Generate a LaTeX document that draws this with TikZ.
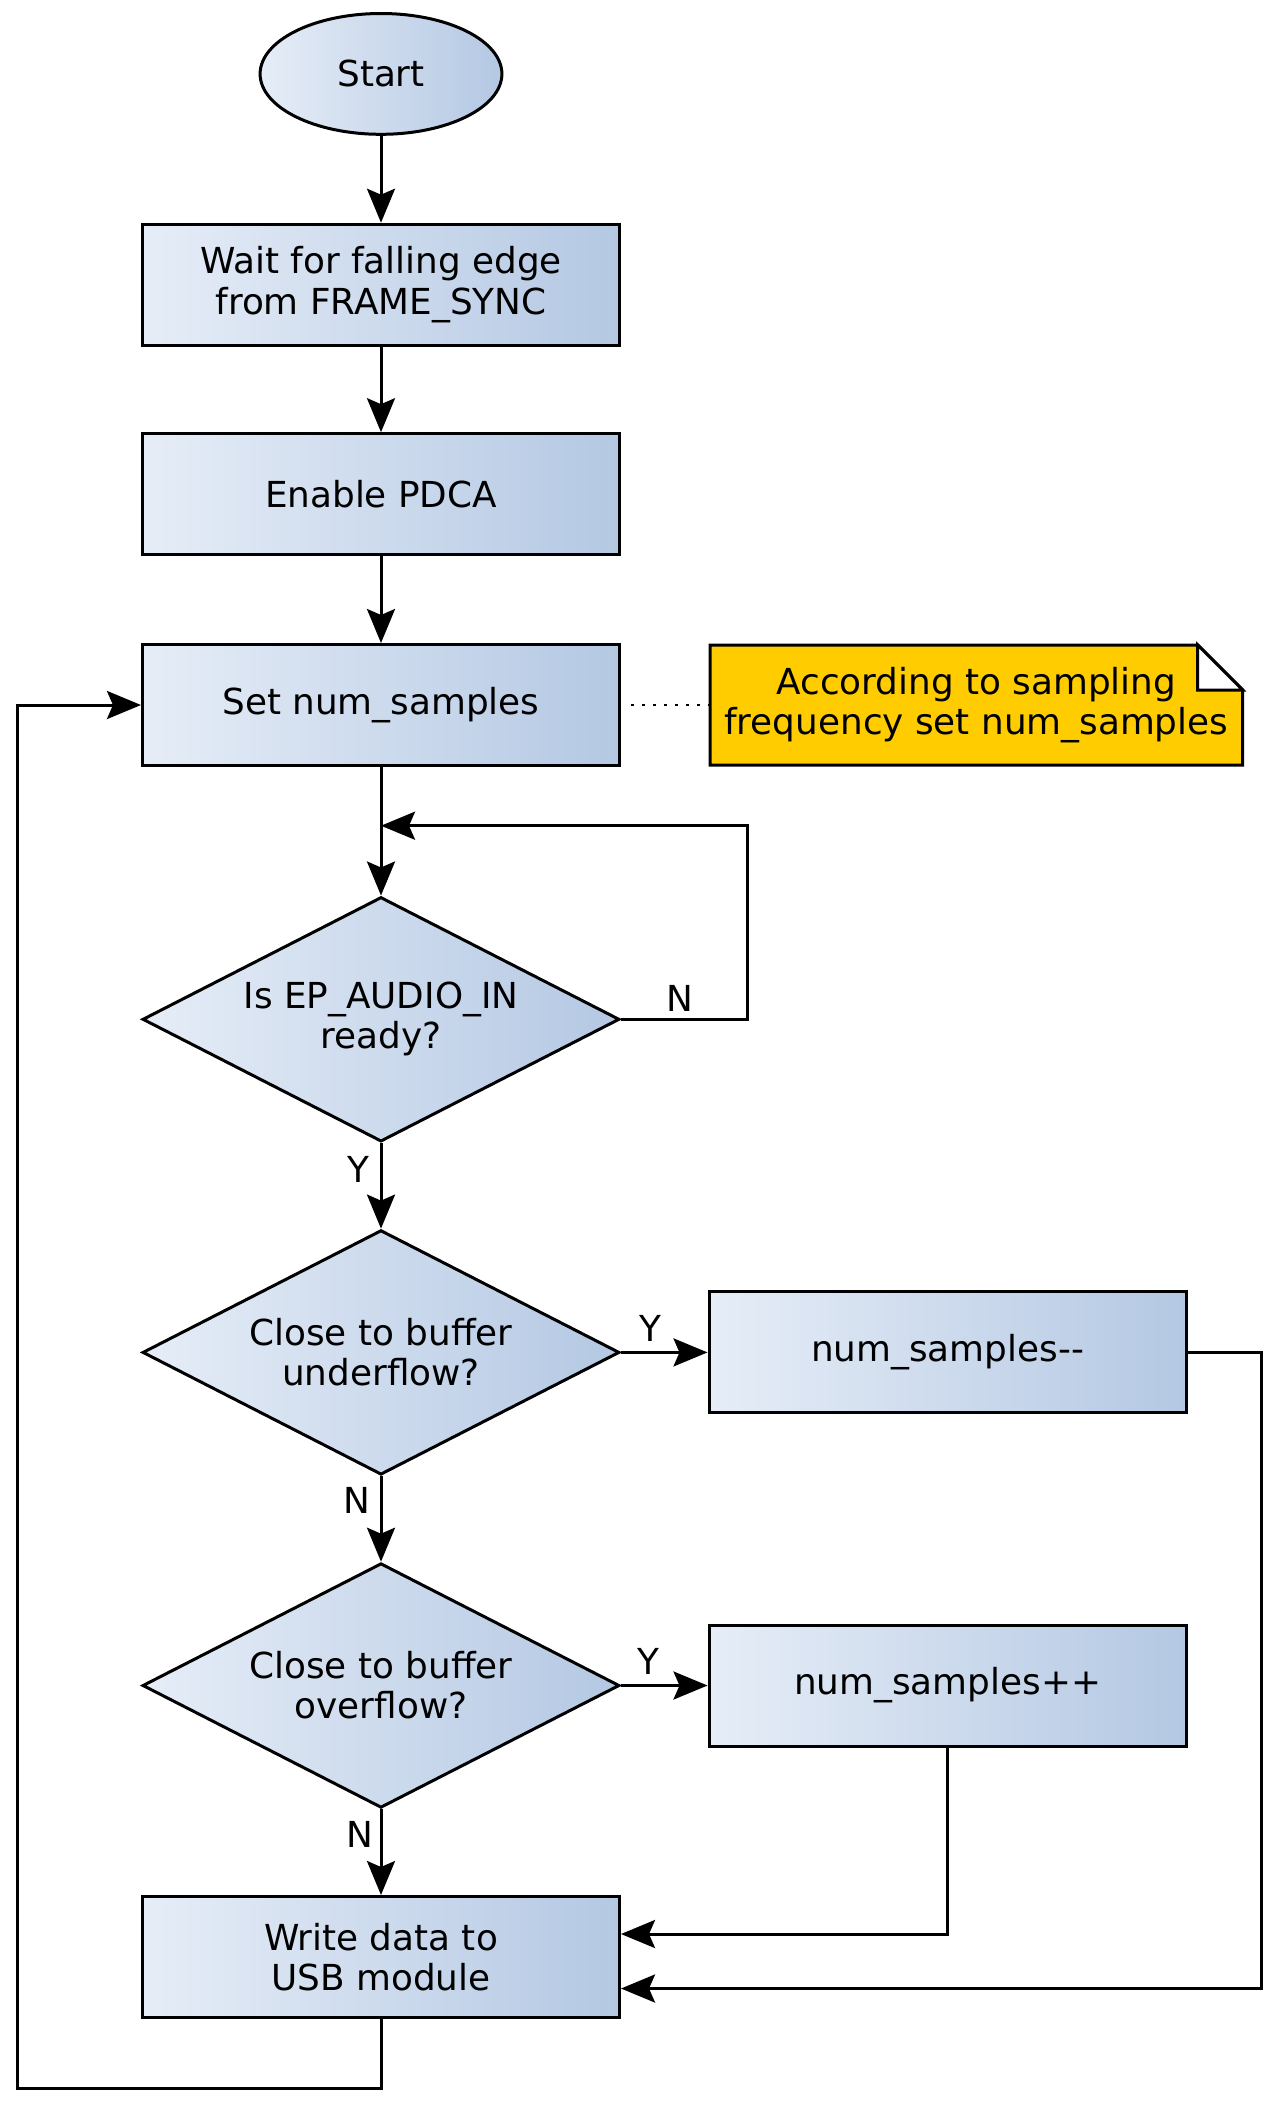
\documentclass[tikz,border=0pt]{standalone}
\usepackage{fontspec}
\setmainfont{DejaVu Sans}
\usetikzlibrary{shapes.geometric,arrows.meta,calc}
\definecolor{gl}{HTML}{E6EDF7}
\definecolor{gr}{HTML}{B4C8E3}
\definecolor{notey}{HTML}{FFCC00}
\tikzset{
  txt/.style={font=\fontsize{17.9pt}{20.1pt}\selectfont, align=center},
  grad/.style={left color=gl, right color=gr, shading=axis, shading angle=90},
  procbox/.style={txt, draw=black, line width=1.5pt, rectangle, grad,
    minimum width=238.5pt, minimum height=60.5pt, inner sep=0pt},
  decbox/.style={txt, draw=black, line width=1.5pt, diamond, grad,
    minimum width=238.5pt, minimum height=122.3pt, inner sep=0pt, aspect=1.95},
  termbox/.style={txt, draw=black, line width=1.5pt, ellipse, grad,
    minimum width=120.9pt, minimum height=60.4pt, inner sep=0pt},
  lbl/.style={txt, inner sep=0pt},
  arr/.style={line width=1.5pt, -{Stealth[length=17pt, width=14pt, inset=3pt]}},
  plain/.style={line width=1.5pt, line join=miter},
}
\begin{document}
\begin{tikzpicture}[x=0.5pt, y=-0.5pt]
\useasboundingbox (0,0) rectangle (1278,2106);
% nodes
\node[termbox] (start) at (381,73.9) {Start};
\node[procbox] (b1) at (381,284.7) {Wait for falling edge\\from FRAME\_SYNC};
\node[procbox] (b2) at (381,494.2) {Enable PDCA};
\node[procbox] (b3) at (381,705) {Set num\_samples};
\node[decbox] (d1) at (381,1019.3) {Is EP\_AUDIO\_IN\\ready?};
\node[decbox] (d2) at (381,1352.4) {Close to buffer\\underflow?};
\node[decbox] (d3) at (381,1685.5) {Close to buffer\\overflow?};
\node[procbox] (dec) at (947.5,1352.4) {num\_samples-{}-};
\node[procbox] (inc) at (947.5,1685.5) {num\_samples++};
\node[procbox] (wr) at (381,1957) {Write data to\\USB module};
% note shape
\coordinate (nNW) at (710,645);
\coordinate (fa) at (1197.7,645);
\coordinate (fb) at (1242.7,690);
\coordinate (fc) at (1197.7,690);
\coordinate (nSE) at (1242.7,765);
\coordinate (nSW) at (710,765);
\filldraw[plain, fill=notey] (nNW) -- (fa) -- (fb) -- (nSE) -- (nSW) -- cycle;
\draw[plain, fill=white] (fa) -- (fc) -- (fb) -- cycle;
\node[txt, minimum width=266.35pt, minimum height=60pt, inner sep=0pt] (note) at (976.35,705) {According to sampling\\frequency set num\_samples};
\draw[line width=1.3pt, dash pattern=on 1.3pt off 4.2pt] (b3.east) ++(10,0) -- (note.west);
% labels
\node[lbl] (lN1) at (680,998) {N};
\node[lbl] (lY1) at (358.6,1169.8) {Y};
\node[lbl] (lY2) at (650,1328) {Y};
\node[lbl] (lN2) at (357,1500) {N};
\node[lbl] (lY3) at (648.7,1661) {Y};
\node[lbl] (lN3) at (360,1834.5) {N};
% coordinates for loops
\coordinate (nl) at (747.7,825.7);
\coordinate (nlend) at (381,825.7);
\coordinate (rl) at (1261.7,1988.5);
\coordinate (winA) at ($(wr.east)+(0,-23)$);
\coordinate (winB) at ($(wr.east)+(0,31.5)$);
\coordinate (ll) at (17.3,2088.7);
% edges
\draw[arr] (start) -- (b1);
\draw[arr] (b1) -- (b2);
\draw[arr] (b2) -- (b3);
\draw[arr] (b3) -- (d1);
\draw[arr] (d1.east) -| (nl) -- (nlend);
\draw[arr] (d1) -- (d2);
\draw[arr] (d2) -- (dec);
\draw[arr] (d2) -- (d3);
\draw[arr] (d3) -- (inc);
\draw[arr] (d3) -- (wr);
\draw[arr] (inc.south) |- (winA);
\draw[arr] (dec.east) -| (rl) -- (winB);
\draw[arr] (wr.south) |- (ll) |- (b3.west);
\end{tikzpicture}
\end{document}
